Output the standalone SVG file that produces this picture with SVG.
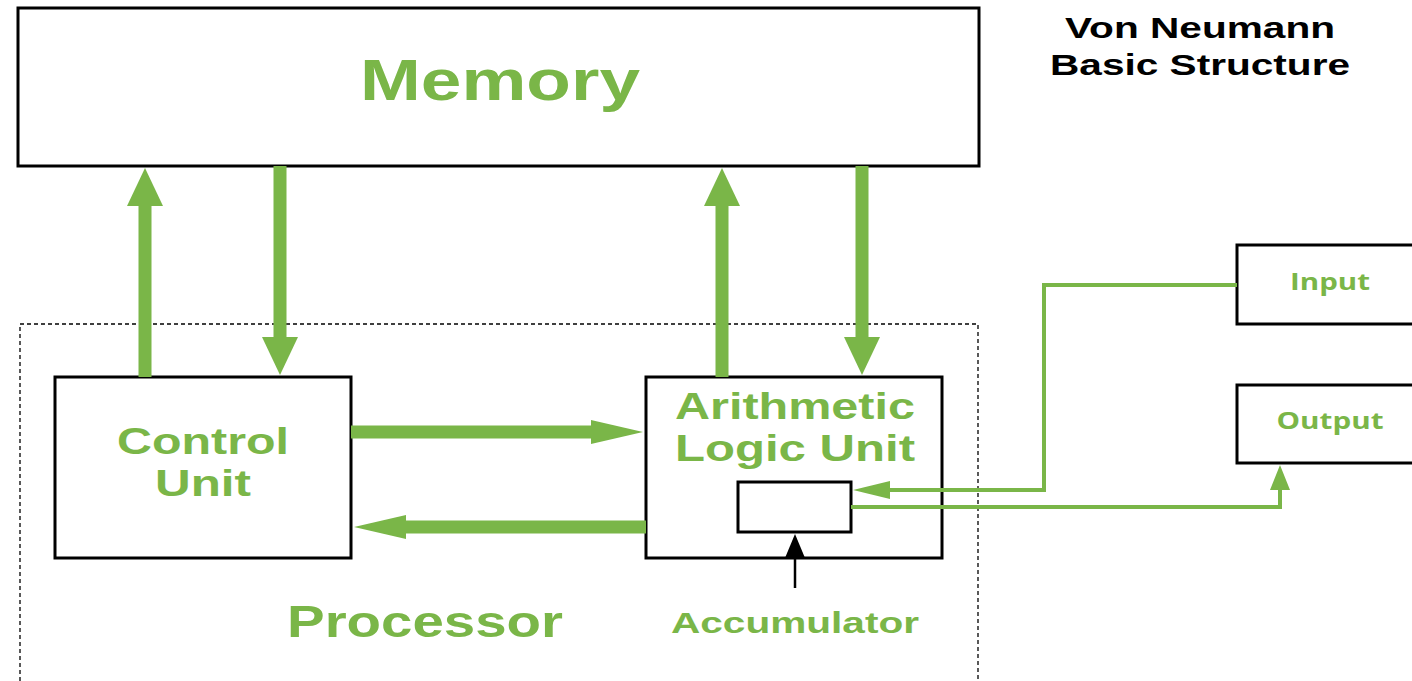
<svg xmlns="http://www.w3.org/2000/svg" width="1412" height="681" viewBox="0 0 1412 681">
<style>
.box{fill:#fff;stroke:#000;stroke-width:3}
.gt{fill:#7ab648;font-family:"Liberation Sans",Arial,sans-serif;font-weight:bold;text-anchor:middle}
.io{fill:#7ab648;font-family:"Open Sans",sans-serif;font-weight:bold;text-anchor:middle;font-size:23px}
.bt{fill:#000;font-family:"Liberation Sans",Arial,sans-serif;font-weight:bold;text-anchor:middle;font-size:30px}
.thick{stroke:#7ab648;stroke-width:13;fill:none}
.thin{stroke:#7ab648;stroke-width:4;fill:none}
.head{fill:#7ab648}
</style>
<rect width="1412" height="681" fill="#fff"/>
<g id="title">
<text class="bt" x="1200" y="38" textLength="270" lengthAdjust="spacingAndGlyphs">Von Neumann</text>
<text class="bt" x="1200" y="75" textLength="300" lengthAdjust="spacingAndGlyphs">Basic Structure</text>
</g>
<g id="processor">
<rect x="20" y="324" width="958" height="400" fill="none" stroke="#000" stroke-width="1.3" stroke-dasharray="4,3"/>
<text class="gt" x="425" y="637" font-size="44" textLength="276" lengthAdjust="spacingAndGlyphs">Processor</text>
</g>
<g id="memory">
<rect class="box" x="18" y="8" width="961" height="158"/>
<text class="gt" x="500" y="100" font-size="58" textLength="280" lengthAdjust="spacingAndGlyphs">Memory</text>
</g>
<g id="control-unit">
<rect class="box" x="55" y="377" width="296" height="181"/>
<text class="gt" x="203" y="454" font-size="37" textLength="172" lengthAdjust="spacingAndGlyphs">Control</text>
<text class="gt" x="203" y="496" font-size="37" textLength="96" lengthAdjust="spacingAndGlyphs">Unit</text>
</g>
<g id="alu">
<rect class="box" x="646" y="377" width="296" height="181"/>
<text class="gt" x="795" y="419" font-size="37" textLength="240" lengthAdjust="spacingAndGlyphs">Arithmetic</text>
<text class="gt" x="795" y="461" font-size="37" textLength="240" lengthAdjust="spacingAndGlyphs">Logic Unit</text>
</g>
<g id="accumulator">
<rect class="box" x="738" y="482" width="113" height="50"/>
<text class="gt" x="795" y="633" font-size="30" textLength="248" lengthAdjust="spacingAndGlyphs">Accumulator</text>
</g>
<g id="input">
<rect class="box" x="1237" y="245" width="190" height="79"/>
<text class="io" x="1330" y="290" textLength="80" lengthAdjust="spacingAndGlyphs">Input</text>
</g>
<g id="output">
<rect class="box" x="1237" y="385" width="190" height="78"/>
<text class="io" x="1330" y="429" textLength="107" lengthAdjust="spacingAndGlyphs">Output</text>
</g>
<g id="connectors">
<line class="thick" x1="145" y1="377" x2="145" y2="204"/>
<polygon class="head" points="145,168 127,206 163,206"/>
<line class="thick" x1="280" y1="166" x2="280" y2="338"/>
<polygon class="head" points="280,375 262,337 298,337"/>
<line class="thick" x1="722" y1="377" x2="722" y2="204"/>
<polygon class="head" points="722,168 704,206 740,206"/>
<line class="thick" x1="862" y1="166" x2="862" y2="338"/>
<polygon class="head" points="862,375 844,337 880,337"/>
<line class="thick" x1="351" y1="432" x2="594" y2="432"/>
<polygon class="head" points="643,432 591,420 591,444"/>
<line class="thick" x1="646" y1="527" x2="403" y2="527"/>
<polygon class="head" points="354,527 406,515 406,539"/>
<polyline class="thin" points="1237,285 1044,285 1044,490 885,490"/>
<polygon class="head" points="853,490 890,481 890,499"/>
<polyline class="thin" points="851,507 1280,507 1280,490"/>
<polygon class="head" points="1280,465 1270,490 1290,490"/>
<line x1="795" y1="588" x2="795" y2="555" stroke="#000" stroke-width="2.5"/>
<polygon points="795,534 785,558 805,558" fill="#000"/>
</g>
</svg>
